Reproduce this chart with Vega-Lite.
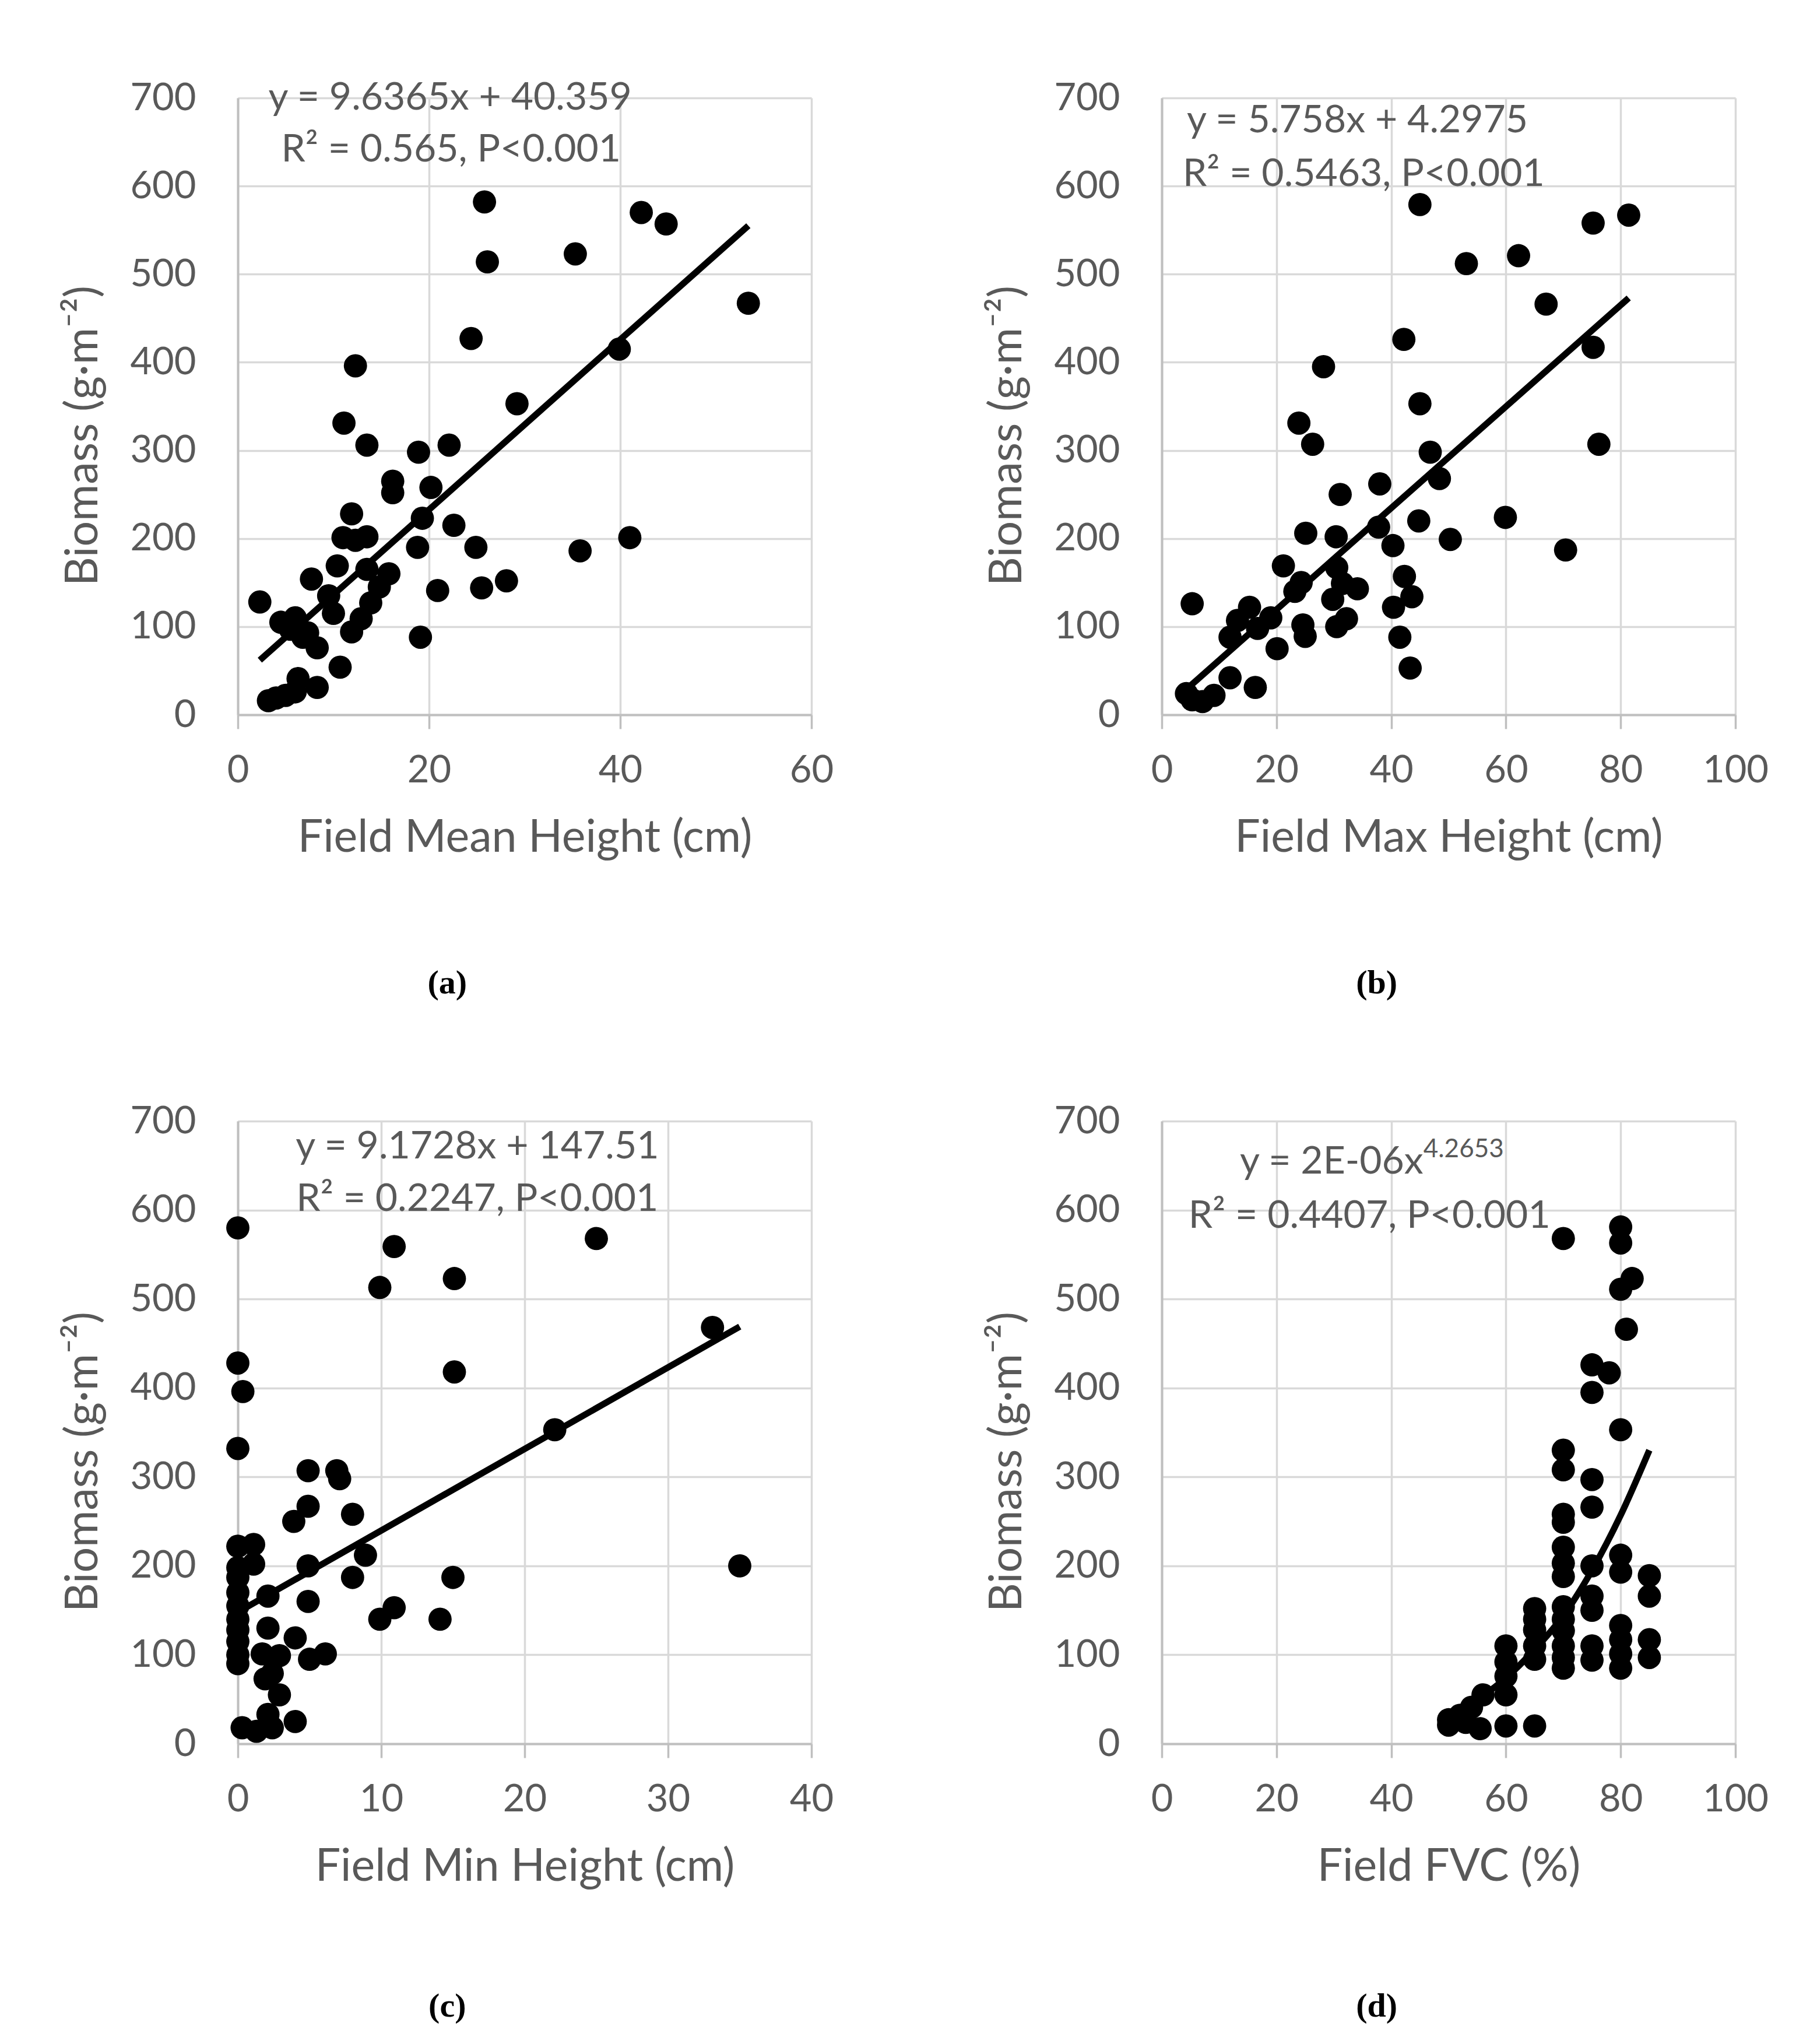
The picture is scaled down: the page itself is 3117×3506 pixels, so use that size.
{
  "$schema": "https://vega.github.io/schema/vega-lite/v6.json",
  "background": "white",
  "padding": {"left": 104, "top": 135, "right": 20, "bottom": 20},
  "bounds": "flush",
  "columns": 2,
  "spacing": {"row": 697, "column": 601},
  "datasets": {
    "a_pts": [
      {"x":2.3,"y":128},{"x":3.2,"y":16},{"x":4.0,"y":19},{"x":5.0,"y":22},{"x":6.0,"y":26},{"x":6.3,"y":41},{"x":8.3,"y":31},{"x":10.7,"y":54},
      {"x":4.5,"y":105},{"x":5.5,"y":97},{"x":6.0,"y":110},{"x":6.8,"y":88},{"x":7.3,"y":93},{"x":8.3,"y":76},{"x":7.7,"y":154},{"x":10.4,"y":169},
      {"x":9.5,"y":135},{"x":10.0,"y":115},{"x":11.9,"y":94},{"x":12.9,"y":109},{"x":13.9,"y":127},{"x":14.8,"y":145},{"x":15.8,"y":160},{"x":13.5,"y":165},
      {"x":11.9,"y":228},{"x":11.0,"y":201},{"x":12.3,"y":198},{"x":13.5,"y":202},{"x":16.2,"y":252},{"x":16.2,"y":265},{"x":20.2,"y":258},{"x":19.3,"y":223},
      {"x":22.6,"y":215},{"x":18.8,"y":190},{"x":24.9,"y":190},{"x":20.9,"y":141},{"x":19.1,"y":88},{"x":25.5,"y":144},{"x":28.1,"y":152},{"x":35.8,"y":186},
      {"x":41.0,"y":201},{"x":29.2,"y":353},{"x":11.1,"y":331},{"x":13.5,"y":306},{"x":18.9,"y":298},{"x":22.1,"y":306},{"x":12.3,"y":396},{"x":24.4,"y":427},
      {"x":39.9,"y":415},{"x":53.4,"y":467},{"x":26.1,"y":514},{"x":35.3,"y":523},{"x":25.8,"y":582},{"x":42.2,"y":570},{"x":44.8,"y":557}
    ],
    "a_fit": [{"x":2.3,"y":62},{"x":53.4,"y":555}],
    "b_pts": [
      {"x":5.3,"y":126},{"x":4.3,"y":24},{"x":5.3,"y":17},{"x":7.1,"y":15},{"x":9.1,"y":22},{"x":11.9,"y":42},{"x":16.3,"y":31},
      {"x":11.9,"y":88},{"x":13.2,"y":107},{"x":15.3,"y":122},{"x":16.7,"y":98},{"x":19.0,"y":110},{"x":20.1,"y":75},{"x":21.2,"y":169},{"x":23.2,"y":140},
      {"x":24.3,"y":150},{"x":24.6,"y":102},{"x":25.0,"y":89},{"x":25.1,"y":206},{"x":30.5,"y":167},{"x":31.5,"y":149},{"x":29.8,"y":131},{"x":32.2,"y":109},
      {"x":30.5,"y":100},{"x":34.1,"y":143},{"x":30.4,"y":202},{"x":31.1,"y":250},{"x":38.0,"y":262},{"x":37.8,"y":213},{"x":40.3,"y":192},{"x":44.8,"y":220},
      {"x":42.3,"y":157},{"x":40.4,"y":122},{"x":43.6,"y":134},{"x":41.5,"y":88},{"x":43.3,"y":53},
      {"x":45.0,"y":579},{"x":81.4,"y":567},{"x":75.2,"y":558},{"x":62.2,"y":521},{"x":53.1,"y":512},{"x":67.0,"y":466},{"x":42.2,"y":426},{"x":75.2,"y":417},
      {"x":28.2,"y":395},{"x":45.0,"y":353},{"x":23.9,"y":331},{"x":26.3,"y":307},{"x":76.2,"y":307},{"x":46.8,"y":298},{"x":48.4,"y":268},{"x":59.9,"y":224},
      {"x":50.3,"y":199},{"x":70.4,"y":187}
    ],
    "b_fit": [{"x":5.0,"y":33},{"x":81.4,"y":473}],
    "c_pts": [
      {"x":0,"y":580},{"x":10.9,"y":559},{"x":25.0,"y":568},{"x":9.9,"y":513},{"x":15.1,"y":523},{"x":33.1,"y":468},{"x":0,"y":428},{"x":15.1,"y":418},
      {"x":0.35,"y":396},{"x":22.1,"y":353},{"x":0,"y":332},{"x":4.9,"y":307},{"x":6.9,"y":307},{"x":7.1,"y":298},{"x":4.9,"y":267},{"x":3.9,"y":250},
      {"x":8.0,"y":258},{"x":8.9,"y":212},{"x":4.9,"y":200},{"x":8.0,"y":187},{"x":15.0,"y":187},{"x":35.0,"y":200},{"x":4.9,"y":160},{"x":9.9,"y":140},
      {"x":10.9,"y":153},{"x":14.1,"y":140},{"x":2.1,"y":166},{"x":0,"y":222},{"x":1.1,"y":224},{"x":1.1,"y":202},{"x":0,"y":198},{"x":0,"y":187},
      {"x":0,"y":170},{"x":0,"y":155},{"x":0,"y":140},{"x":0,"y":128},{"x":0,"y":115},{"x":0,"y":100},{"x":0,"y":90},{"x":2.1,"y":130},
      {"x":4.0,"y":119},{"x":2.9,"y":99},{"x":1.7,"y":101},{"x":5.0,"y":95},{"x":6.1,"y":101},{"x":2.4,"y":79},{"x":1.9,"y":73},{"x":2.9,"y":55},
      {"x":2.1,"y":33},{"x":4.0,"y":25},{"x":0.3,"y":18},{"x":1.3,"y":14},{"x":2.4,"y":18}
    ],
    "c_fit": [{"x":0,"y":148},{"x":35,"y":469}],
    "d_pts": [
      {"x":50,"y":21},{"x":50,"y":27},{"x":52,"y":32},{"x":53,"y":24},{"x":54,"y":41},{"x":55.5,"y":17},{"x":56,"y":55},
      {"x":60,"y":20},{"x":60,"y":55},{"x":60,"y":76},{"x":60,"y":92},{"x":60,"y":110},
      {"x":65,"y":20},{"x":65,"y":95},{"x":65,"y":110},{"x":65,"y":128},{"x":65,"y":140},{"x":65,"y":152},
      {"x":70,"y":85},{"x":70,"y":97},{"x":70,"y":110},{"x":70,"y":127},{"x":70,"y":140},{"x":70,"y":154},{"x":70,"y":188},{"x":70,"y":203},
      {"x":70,"y":221},{"x":70,"y":249},{"x":70,"y":258},{"x":70,"y":308},{"x":70,"y":330},{"x":70,"y":568},
      {"x":75,"y":94},{"x":75,"y":110},{"x":75,"y":150},{"x":75,"y":166},{"x":75,"y":200},{"x":75,"y":266},{"x":75,"y":297},{"x":75,"y":395},
      {"x":75,"y":426},{"x":78,"y":417},
      {"x":80,"y":85},{"x":80,"y":101},{"x":80,"y":117},{"x":80,"y":133},{"x":80,"y":193},{"x":80,"y":212},{"x":80,"y":353},{"x":80,"y":511},
      {"x":80,"y":563},{"x":80,"y":581},{"x":82,"y":523},{"x":81,"y":466},
      {"x":85,"y":97},{"x":85,"y":117},{"x":85,"y":166},{"x":85,"y":189}
    ],
    "d_fit": [{"x":50,"y":34},{"x":55,"y":50},{"x":60,"y":74},{"x":65,"y":106},{"x":70,"y":144},{"x":75,"y":195},{"x":80,"y":257},{"x":85,"y":330}]
  },
  "concat": [
    {
      "width": 984, "height": 1058,
      "title": {"text": "(a)", "orient": "bottom", "anchor": "middle", "frame": "bounds", "offset": 183, "font": "Liberation Serif", "fontWeight": "bold", "fontSize": 58, "color": "#000000"},
      "layer": [
        {"data": {"name": "a_pts"}, "mark": {"type": "circle", "size": 1590, "color": "#000000", "opacity": 1},
         "encoding": {
           "x": {"field": "x", "type": "quantitative", "scale": {"domain": [0, 60], "nice": false}, "axis": {"values": [0, 20, 40, 60], "title": "Field Mean Height (cm)"}},
           "y": {"field": "y", "type": "quantitative", "scale": {"domain": [0, 700], "nice": false}, "axis": {"values": [0, 100, 200, 300, 400, 500, 600, 700], "title": "Biomass (g·m⁻²)"}}}},
        {"data": {"name": "a_fit"}, "mark": {"type": "line", "color": "#000000", "strokeWidth": 11},
         "encoding": {"x": {"field": "x", "type": "quantitative"}, "y": {"field": "y", "type": "quantitative"}}},
        {"data": {"values": [{"label": "y = 9.6365x + 40.359"}]}, "mark": {"type": "text", "fontSize": 66, "color": "#595959", "font": "Lato", "align": "center", "baseline": "middle"},
         "encoding": {"x": {"datum": 22.2}, "y": {"datum": 700}, "text": {"field": "label"}}},
        {"data": {"values": [{"label": "R² = 0.565, P<0.001"}]}, "mark": {"type": "text", "fontSize": 66, "color": "#595959", "font": "Lato", "align": "center", "baseline": "middle"},
         "encoding": {"x": {"datum": 22.3}, "y": {"datum": 641}, "text": {"field": "label"}}}
      ]
    },
    {
      "width": 984, "height": 1058,
      "title": {"text": "(b)", "orient": "bottom", "anchor": "middle", "frame": "bounds", "offset": 183, "font": "Liberation Serif", "fontWeight": "bold", "fontSize": 58, "color": "#000000"},
      "layer": [
        {"data": {"name": "b_pts"}, "mark": {"type": "circle", "size": 1590, "color": "#000000", "opacity": 1},
         "encoding": {
           "x": {"field": "x", "type": "quantitative", "scale": {"domain": [0, 100], "nice": false}, "axis": {"values": [0, 20, 40, 60, 80, 100], "title": "Field Max Height (cm)"}},
           "y": {"field": "y", "type": "quantitative", "scale": {"domain": [0, 700], "nice": false}, "axis": {"values": [0, 100, 200, 300, 400, 500, 600, 700], "title": "Biomass (g·m⁻²)"}}}},
        {"data": {"name": "b_fit"}, "mark": {"type": "line", "color": "#000000", "strokeWidth": 11},
         "encoding": {"x": {"field": "x", "type": "quantitative"}, "y": {"field": "y", "type": "quantitative"}}},
        {"data": {"values": [{"label": "y = 5.758x + 4.2975"}]}, "mark": {"type": "text", "fontSize": 66, "color": "#595959", "font": "Lato", "align": "center", "baseline": "middle"},
         "encoding": {"x": {"datum": 34.1}, "y": {"datum": 674}, "text": {"field": "label"}}},
        {"data": {"values": [{"label": "R² = 0.5463, P<0.001"}]}, "mark": {"type": "text", "fontSize": 66, "color": "#595959", "font": "Lato", "align": "center", "baseline": "middle"},
         "encoding": {"x": {"datum": 35.2}, "y": {"datum": 613}, "text": {"field": "label"}}}
      ]
    },
    {
      "width": 984, "height": 1068,
      "title": {"text": "(c)", "orient": "bottom", "anchor": "middle", "frame": "bounds", "offset": 173, "font": "Liberation Serif", "fontWeight": "bold", "fontSize": 58, "color": "#000000"},
      "layer": [
        {"data": {"name": "c_pts"}, "mark": {"type": "circle", "size": 1590, "color": "#000000", "opacity": 1},
         "encoding": {
           "x": {"field": "x", "type": "quantitative", "scale": {"domain": [0, 40], "nice": false}, "axis": {"values": [0, 10, 20, 30, 40], "title": "Field Min Height (cm)"}},
           "y": {"field": "y", "type": "quantitative", "scale": {"domain": [0, 700], "nice": false}, "axis": {"values": [0, 100, 200, 300, 400, 500, 600, 700], "title": "Biomass (g·m⁻²)", "titleY": 584}}}},
        {"data": {"name": "c_fit"}, "mark": {"type": "line", "color": "#000000", "strokeWidth": 11},
         "encoding": {"x": {"field": "x", "type": "quantitative"}, "y": {"field": "y", "type": "quantitative"}}},
        {"data": {"values": [{"label": "y = 9.1728x + 147.51"}]}, "mark": {"type": "text", "fontSize": 66, "color": "#595959", "font": "Lato", "align": "center", "baseline": "middle"},
         "encoding": {"x": {"datum": 16.7}, "y": {"datum": 671}, "text": {"field": "label"}}},
        {"data": {"values": [{"label": "R² = 0.2247, P<0.001"}]}, "mark": {"type": "text", "fontSize": 66, "color": "#595959", "font": "Lato", "align": "center", "baseline": "middle"},
         "encoding": {"x": {"datum": 16.7}, "y": {"datum": 612}, "text": {"field": "label"}}}
      ]
    },
    {
      "width": 984, "height": 1068,
      "title": {"text": "(d)", "orient": "bottom", "anchor": "middle", "frame": "bounds", "offset": 173, "font": "Liberation Serif", "fontWeight": "bold", "fontSize": 58, "color": "#000000"},
      "layer": [
        {"data": {"name": "d_pts"}, "mark": {"type": "circle", "size": 1590, "color": "#000000", "opacity": 1},
         "encoding": {
           "x": {"field": "x", "type": "quantitative", "scale": {"domain": [0, 100], "nice": false}, "axis": {"values": [0, 20, 40, 60, 80, 100], "title": "Field FVC (%)"}},
           "y": {"field": "y", "type": "quantitative", "scale": {"domain": [0, 700], "nice": false}, "axis": {"values": [0, 100, 200, 300, 400, 500, 600, 700], "title": "Biomass (g·m⁻²)", "titleY": 584}}}},
        {"data": {"name": "d_fit"}, "mark": {"type": "line", "color": "#000000", "strokeWidth": 11, "interpolate": "monotone"},
         "encoding": {"x": {"field": "x", "type": "quantitative"}, "y": {"field": "y", "type": "quantitative"}}},
        {"data": {"values": [{"label": "y = 2E-06x"}]}, "mark": {"type": "text", "fontSize": 66, "color": "#595959", "font": "Lato", "align": "right", "baseline": "middle"},
         "encoding": {"x": {"datum": 45.6}, "y": {"datum": 654}, "text": {"field": "label"}}},
        {"data": {"values": [{"label": "4.2653"}]}, "mark": {"type": "text", "fontSize": 44, "color": "#595959", "font": "Lato", "align": "left", "baseline": "middle"},
         "encoding": {"x": {"datum": 45.6}, "y": {"datum": 668}, "text": {"field": "label"}}},
        {"data": {"values": [{"label": "R² = 0.4407, P<0.001"}]}, "mark": {"type": "text", "fontSize": 66, "color": "#595959", "font": "Lato", "align": "center", "baseline": "middle"},
         "encoding": {"x": {"datum": 36.2}, "y": {"datum": 593}, "text": {"field": "label"}}}
      ]
    }
  ],
  "config": {
    "font": "Lato",
    "view": {"stroke": null},
    "axis": {
      "labelFont": "Lato", "labelFontSize": 65, "labelColor": "#595959",
      "titleFont": "Lato", "titleFontSize": 77, "titleColor": "#595959", "titleFontWeight": "normal",
      "gridColor": "#d9d9d9", "gridWidth": 3.5,
      "domainColor": "#bfbfbf", "domainWidth": 4,
      "tickColor": "#bfbfbf", "tickWidth": 3.5
    },
    "axisX": {"tickSize": 24, "labelPadding": 40, "titlePadding": 45, "labelFlush": false},
    "axisY": {"ticks": false, "tickSize": 0, "labelPadding": 72, "titlePadding": 40, "titleY": 579}
  }
}
